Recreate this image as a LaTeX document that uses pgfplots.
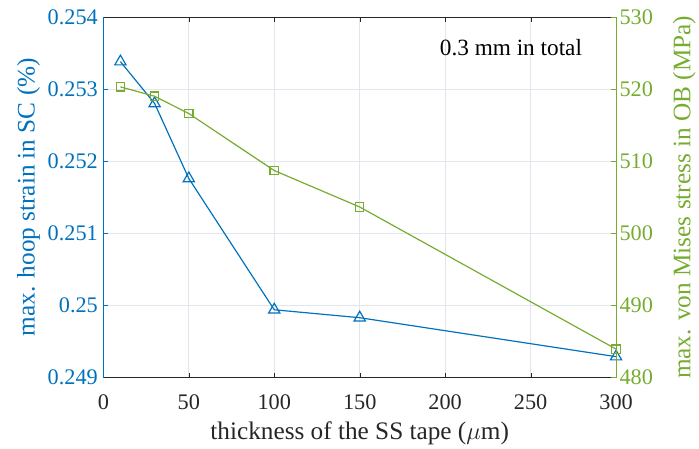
\documentclass[border=0pt]{standalone}
\usepackage{pgfplots}
\pgfplotsset{compat=1.18}
\usepackage{fontspec}
\setmainfont{Liberation Serif}
\definecolor{mblue}{RGB}{0,114,189}
\definecolor{mgreen}{RGB}{119,172,48}
\definecolor{gridc}{RGB}{225,230,238}
\definecolor{axc}{RGB}{38,38,38}
\begin{document}
\begin{tikzpicture}[font=\fontsize{22.5}{26}\selectfont]
\begin{axis}[name=a1,
  scale only axis, width=516bp, height=363bp,
  xmin=0, xmax=300, ymin=0.249, ymax=0.254,
  xtick={0,50,100,150,200,250,300},
  ytick={0.249,0.25,0.251,0.252,0.253,0.254},
  yticklabels={0.249,0.25,0.251,0.252,0.253,0.254},
  scaled y ticks=false,
  /pgf/number format/assume math mode=true,
  tick align=inside,
  axis y line*=left,
  axis x line*=box,
  x axis line style={axc},
  y axis line style={mblue},
  ytick style={mblue},
  xtick style={axc},
  yticklabel style={text=mblue, xshift=-2bp},
  xticklabel style={text=axc, yshift=-14bp},
  grid=major, major grid style={gridc, line width=0.6pt},
  xlabel={\fontsize{25.5}{29}\selectfont thickness of the SS tape ($\mu$m)},
  ylabel={\fontsize{25.5}{29}\selectfont max. hoop strain in SC (\%)},
  ylabel style={text=mblue, at={(axis description cs:-0.146,0.5)}, anchor=center},
  xlabel style={text=axc, at={(axis description cs:0.5,-0.155)}, anchor=center},
  major tick length=5bp,
]
\addplot[mblue, line width=1.2pt, mark=triangle, mark size=6.5bp, mark options={solid, line width=1.2pt}]
  coordinates {(10,0.25338) (30,0.25280) (50,0.25176) (100,0.24994) (150,0.24983) (300,0.24929)};
\node[text=black, anchor=center, font=\fontsize{23.5}{27}\selectfont] at (axis cs:238.5,0.25357) {0.3 mm in total};
\end{axis}
\begin{axis}[
  scale only axis, width=516bp, height=363bp,
  xmin=0, xmax=300, ymin=480, ymax=530,
  axis x line=none,
  axis y line*=right,
  ytick={480,490,500,510,520,530},
  /pgf/number format/assume math mode=true,
  tick align=inside,
  y axis line style={mgreen},
  ytick style={mgreen},
  yticklabel style={text=mgreen},
  ylabel={\fontsize{25.5}{29}\selectfont max. von Mises stress in OB (MPa)},
  ylabel style={text=mgreen, at={(axis description cs:1.133,0.5)}, anchor=center},
  major tick length=5bp,
]
\addplot[mgreen, line width=1.2pt, mark=square, mark size=4.2bp, mark options={solid, line width=1.2pt}]
  coordinates {(10,520.3) (30,519.0) (50,516.6) (100,508.7) (150,503.65) (300,483.95)};
\end{axis}
\path (a1.south west) ++(-104bp,-68bp);
\path (a1.north east) ++(79bp,17bp);
\end{tikzpicture}
\end{document}
